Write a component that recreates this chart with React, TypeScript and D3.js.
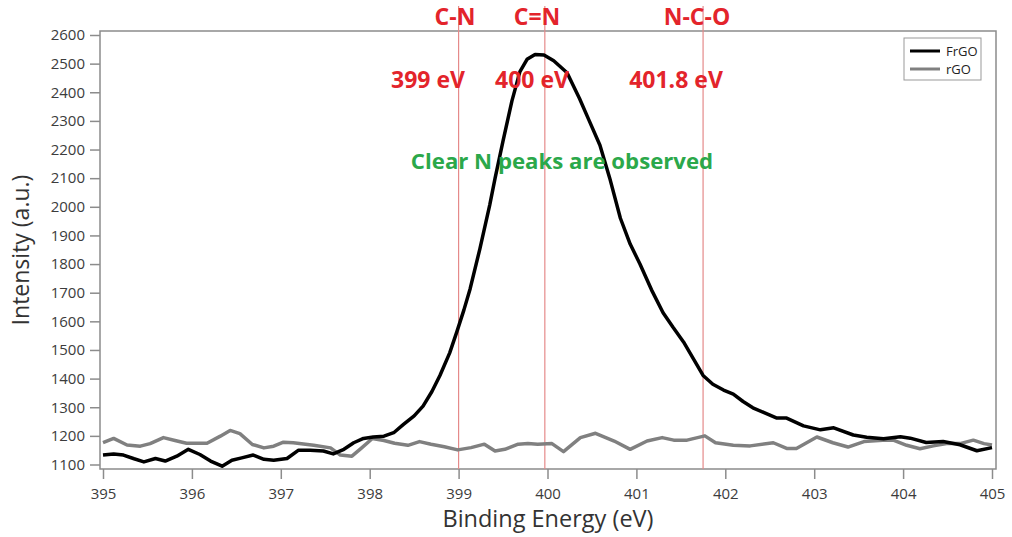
import React, { useEffect, useRef } from "react";
import * as d3 from "d3";

// FrGO N1s spectrum (binding energy eV, counts)
const frgoEnergy = [
  395.0, 395.12, 395.23, 395.35, 395.46, 395.59, 395.7, 395.83, 395.96, 396.09,
  396.21, 396.34, 396.45, 396.56, 396.69, 396.81, 396.92, 397.07, 397.2, 397.33,
  397.48, 397.59, 397.71, 397.82, 397.93, 398.04, 398.16, 398.27, 398.38, 398.5,
  398.6, 398.7, 398.79, 398.9, 398.98, 399.06, 399.13, 399.24, 399.35, 399.41,
  399.5, 399.6, 399.69, 399.77, 399.86, 399.96, 400.07, 400.22, 400.36, 400.47,
  400.59, 400.7, 400.82, 400.93, 401.04, 401.17, 401.3, 401.41, 401.53, 401.64,
  401.75, 401.86, 401.98, 402.09, 402.2, 402.31, 402.43, 402.58, 402.69, 402.88,
  403.07, 403.22, 403.44, 403.59, 403.78, 403.97, 404.08, 404.26, 404.45, 404.64,
  404.83, 405.0,
];
const frgoCounts = [
  1133, 1137, 1133, 1120, 1109, 1121, 1112, 1129, 1153, 1135,
  1112, 1094, 1115, 1123, 1133, 1118, 1115, 1121, 1150, 1150,
  1147, 1137, 1153, 1176, 1191, 1196, 1199, 1211, 1240, 1270,
  1304, 1355, 1411, 1490, 1563, 1640, 1714, 1854, 2006, 2099,
  2230, 2370, 2472, 2515, 2532, 2530, 2510, 2468, 2378, 2300,
  2215, 2100, 1960, 1870, 1800, 1710, 1630, 1580, 1528, 1470,
  1411, 1380, 1360, 1346, 1320, 1298, 1282, 1262, 1262, 1235,
  1221, 1228, 1203, 1195, 1190, 1197, 1192, 1177, 1180, 1169,
  1148, 1159,
];

// rGO N1s spectrum
const rgoEnergy = [
  395.0, 395.12, 395.27, 395.42, 395.53, 395.68, 395.81, 395.94, 396.17, 396.32,
  396.43, 396.54, 396.68, 396.81, 396.92, 397.03, 397.14, 397.37, 397.56, 397.67,
  397.8, 397.91, 398.03, 398.16, 398.28, 398.43, 398.56, 398.69, 398.84, 398.99,
  399.14, 399.29, 399.41, 399.52, 399.67, 399.78, 399.89, 400.05, 400.18, 400.37,
  400.54, 400.75, 400.93, 401.12, 401.29, 401.42, 401.57, 401.77, 401.89, 402.09,
  402.28, 402.54, 402.69, 402.8, 403.03, 403.21, 403.38, 403.56, 403.77, 403.89,
  404.04, 404.19, 404.34, 404.49, 404.64, 404.79, 404.91, 405.0,
];
const rgoCounts = [
  1176, 1191, 1168, 1164, 1173, 1194, 1184, 1174, 1174, 1199,
  1219, 1208, 1170, 1158, 1164, 1178, 1176, 1167, 1158, 1133,
  1129, 1158, 1191, 1184, 1174, 1167, 1180, 1171, 1162, 1151,
  1159, 1171, 1147, 1153, 1171, 1173, 1171, 1173, 1145, 1194,
  1209, 1182, 1153, 1182, 1194, 1185, 1185, 1200, 1176, 1167,
  1165, 1176, 1156, 1156, 1196, 1176, 1161, 1180, 1185, 1185,
  1167, 1155, 1165, 1173, 1173, 1185, 1173, 1168,
];

const xTicks = [395, 396, 397, 398, 399, 400, 401, 402, 403, 404, 405];
const yTicks = [1100, 1200, 1300, 1400, 1500, 1600, 1700, 1800, 1900, 2000, 2100, 2200, 2300, 2400, 2500, 2600];

// reference peak positions
const peakEnergy = [399.0, 399.97, 401.75];
const peakNames = ["C-N", "C=N", "N-C-O"];
const peakValues = ["399 eV", "400 eV", "401.8 eV"];

const seriesNames = ["FrGO", "rGO"];
const seriesColors = ["#000000", "#808080"];

const W = 1012;
const H = 537;
const font = "'Open Sans', 'Liberation Sans', sans-serif";

export default function App() {
  const ref = useRef<SVGSVGElement>(null);

  useEffect(() => {
    const svg = d3.select(ref.current);
    svg.selectAll("*").remove();

    const frame = { left: 100, right: 996, top: 31, bottom: 469 };
    const x = d3.scaleLinear().domain([395, 405]).range([103, 992]);
    const y = d3.scaleLinear().domain([1100, 2600]).range([464.5, 35]);

    svg.append("rect").attr("width", W).attr("height", H).attr("fill", "#fff");

    // plot frame
    const axisColor = "#8c8c8c";
    svg.append("path")
      .attr("d", `M${frame.left},${frame.top}H${frame.right}V${frame.bottom}H${frame.left}Z`)
      .attr("fill", "none")
      .attr("stroke", axisColor)
      .attr("stroke-width", 1.5);

    // y axis
    const yAxis = svg.append("g")
      .attr("transform", `translate(${frame.left},0)`)
      .call(d3.axisLeft(y).tickValues(yTicks).tickSize(10).tickSizeOuter(0).tickPadding(5).tickFormat(d3.format("d")));
    yAxis.select(".domain").remove();
    yAxis.selectAll("line").attr("stroke", axisColor).attr("stroke-width", 1.5);
    yAxis.selectAll("text").attr("font-family", font).attr("font-size", 15).attr("fill", "#3c3c3c");

    // x axis
    const xAxis = svg.append("g")
      .attr("transform", `translate(0,${frame.bottom})`)
      .call(d3.axisBottom(x).tickValues(xTicks).tickSize(10).tickSizeOuter(0).tickPadding(9).tickFormat(d3.format("d")));
    xAxis.select(".domain").remove();
    xAxis.selectAll("line").attr("stroke", axisColor).attr("stroke-width", 1.5);
    xAxis.selectAll("text").attr("font-family", font).attr("font-size", 15).attr("fill", "#3c3c3c");

    // axis titles
    svg.append("text")
      .attr("transform", "translate(29,250) rotate(-90)")
      .attr("text-anchor", "middle")
      .attr("font-family", font)
      .attr("font-size", 23)
      .attr("fill", "#333")
      .text("Intensity (a.u.)");
    svg.append("text")
      .attr("x", 548)
      .attr("y", 527)
      .attr("text-anchor", "middle")
      .attr("font-family", font)
      .attr("font-size", 23.5)
      .attr("fill", "#333")
      .text("Binding Energy (eV)");

    // peak marker lines
    svg.selectAll(".peak")
      .data(peakEnergy)
      .enter()
      .append("line")
      .attr("class", "peak")
      .attr("x1", (d) => x(d))
      .attr("x2", (d) => x(d))
      .attr("y1", 6)
      .attr("y2", frame.bottom)
      .attr("stroke", "#e58a8a")
      .attr("stroke-width", 1.2);

    // spectra
    const line = d3.line<[number, number]>()
      .x((d) => x(d[0]))
      .y((d) => y(d[1]));
    const rgo = rgoEnergy.map((e, i) => [e, rgoCounts[i]] as [number, number]);
    const frgo = frgoEnergy.map((e, i) => [e, frgoCounts[i]] as [number, number]);
    svg.append("path").attr("d", line(rgo)).attr("fill", "none")
      .attr("stroke", seriesColors[1]).attr("stroke-width", 3.5).attr("stroke-linejoin", "round");
    svg.append("path").attr("d", line(frgo)).attr("fill", "none")
      .attr("stroke", seriesColors[0]).attr("stroke-width", 3.5).attr("stroke-linejoin", "round");

    // peak labels
    const labelX = [455, 537, 697];
    const valueX = [428, 532, 676];
    peakNames.forEach((name, i) => {
      svg.append("text")
        .attr("x", labelX[i]).attr("y", 25)
        .attr("text-anchor", "middle")
        .attr("font-family", font).attr("font-weight", 700).attr("font-size", 23)
        .attr("fill", "#e3242b")
        .text(name);
      svg.append("text")
        .attr("x", valueX[i]).attr("y", 88)
        .attr("text-anchor", "middle")
        .attr("font-family", font).attr("font-weight", 700).attr("font-size", 23)
        .attr("fill", "#e3242b")
        .text(peakValues[i]);
    });

    svg.append("text")
      .attr("x", 562).attr("y", 169)
      .attr("text-anchor", "middle")
      .attr("font-family", font).attr("font-weight", 700).attr("font-size", 22.2)
      .attr("fill", "#2ba84a")
      .text("Clear N peaks are observed");

    // legend
    const legend = svg.append("g").attr("transform", "translate(904,38)");
    legend.append("rect")
      .attr("width", 77).attr("height", 42)
      .attr("fill", "#fff").attr("stroke", "#999").attr("stroke-width", 1);
    seriesNames.forEach((name, i) => {
      const ly = 13 + i * 18;
      legend.append("line")
        .attr("x1", 6).attr("x2", 36).attr("y1", ly).attr("y2", ly)
        .attr("stroke", seriesColors[i]).attr("stroke-width", 3);
      legend.append("text")
        .attr("x", 42).attr("y", ly + 4.5)
        .attr("font-family", font).attr("font-size", 13).attr("fill", "#222")
        .text(name);
    });
  }, []);

  return (
    <svg
      ref={ref}
      width={W}
      height={H}
      style={{ position: "absolute", left: 0, top: 0, display: "block" }}
    />
  );
}
